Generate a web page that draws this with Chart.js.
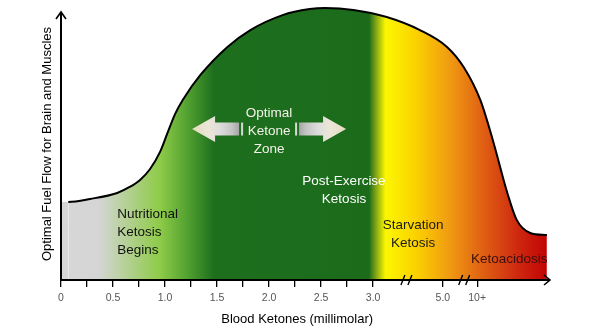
<!DOCTYPE html>
<html>
<head>
<meta charset="utf-8">
<script src="https://cdn.jsdelivr.net/npm/chart.js@4.4.1/dist/chart.umd.min.js"></script>
<style>
  html, body { margin: 0; padding: 0; background: #fff; }
  canvas { display: block; }
</style>
</head>
<body>
<canvas id="chart" width="599" height="330"></canvas>
<script>
// Position along the ketone axis (0–3.0 mmol linear, then broken to 5.0 and 10+)
const ketonePos = [0, 0.07, 0.28, 0.54, 0.66, 0.76, 0.856, 0.952, 1.02, 1.096, 1.17, 1.34, 1.60, 1.82, 2.13, 2.39, 2.54, 2.81, 3.13, 3.45, 3.71, 3.87, 4.03, 4.15, 4.29, 4.38, 4.51, 4.67];
// Relative fuel flow for brain and muscles
const fuelFlow  = [28.7, 28.7, 29.8, 32.0, 34.2, 36.8, 40.8, 47.1, 53.7, 61.0, 66.2, 75.4, 85.7, 91.9, 97.4, 99.6, 100, 99.3, 96.7, 91.9, 85.7, 78.3, 66.2, 51.5, 32.0, 22.1, 17.3, 16.5];

// Axis ticks and their labels
const tickPos    = [0, 0.25, 0.5, 0.75, 1.0, 1.25, 1.5, 1.75, 2.0, 2.25, 2.5, 2.75, 3.0, 3.67, 4.0];
const tickLabels = ['0', '', '0.5', '', '1.0', '', '1.5', '', '2.0', '', '2.5', '', '3.0', '5.0', '10+'];
const axisBreaks = [3.32, 3.875];

// Zone names written inside the area
const zoneText = [
  { lines: ['Nutritional', 'Ketosis', 'Begins'], at: 0.54, v: 24.3, align: 'left',   color: '#111111' },
  { lines: ['Optimal', 'Ketone', 'Zone'],        at: 2.0,  v: 61.2, align: 'center', color: '#f4f2ea' },
  { lines: ['Post-Exercise', 'Ketosis'],         at: 2.72, v: 36.4, align: 'center', color: '#ffffff' },
  { lines: ['Starvation', 'Ketosis'],            at: 3.385, v: 20.2, align: 'center', color: '#1a1a1a' },
  { lines: ['Ketoacidosis'],                     at: 3.94, v: 7.7,  align: 'left',   color: '#3a1010' }
];

// Colour bands of the area, from normal through ketosis to ketoacidosis
const bandStops = [
  [0, '#d7d7d7'], [0.36, '#d5d5d5'], [0.95, '#8ecb48'], [1.2, '#56a432'], [1.47, '#1d6f1e'],
  [2.96, '#1b6b1b'], [3.03, '#86a814'], [3.12, '#fbf700'], [3.42, '#fbd000'], [3.74, '#f09a12'],
  [4.06, '#e05f13'], [4.38, '#cf2a10'], [4.67, '#c10404']
];

const FONT = '"Liberation Sans", Arial, sans-serif';
Chart.defaults.font.family = FONT;

function bandGradient(context) {
  const chart = context.chart;
  const a = chart.chartArea;
  if (!a) return null;
  const x = chart.scales.x;
  const g = chart.ctx.createLinearGradient(a.left, 0, a.right, 0);
  bandStops.forEach(([p, c]) => {
    const t = (x.getPixelForValue(p) - a.left) / (a.right - a.left);
    g.addColorStop(Math.min(1, Math.max(0, t)), c);
  });
  return g;
}

function drawDoubleArrow(ctx, cx, cy) {
  // one arrow on each side of the "Optimal Ketone Zone" text
  [-1, 1].forEach(dir => {
    const tip = cx + dir * 77, base = cx + dir * 54, shaftEnd = cx + dir * 30;
    const g = ctx.createLinearGradient(tip, 0, shaftEnd, 0);
    g.addColorStop(0, '#e6dcc0');
    g.addColorStop(0.35, '#ebe6d6');
    g.addColorStop(0.6, '#dcdcdc');
    g.addColorStop(0.85, '#c4c4c4');
    g.addColorStop(1, '#a6a6a6');
    ctx.fillStyle = g;
    ctx.beginPath();
    ctx.moveTo(tip, cy);
    ctx.lineTo(base, cy - 13);
    ctx.lineTo(base, cy - 6.5);
    ctx.lineTo(shaftEnd, cy - 6.5);
    ctx.lineTo(shaftEnd, cy + 6.5);
    ctx.lineTo(base, cy + 6.5);
    ctx.lineTo(base, cy + 13);
    ctx.closePath();
    ctx.fill();
    // thin bar next to the shaft
    ctx.fillStyle = '#d8d8d8';
    const b0 = cx + dir * 28, b1 = cx + dir * 26;
    ctx.fillRect(Math.min(b0, b1), cy - 6.5, 2, 13);
  });
}

const decor = {
  id: 'decor',
  afterDraw(chart) {
    const { ctx, chartArea: a, scales: { x, y } } = chart;
    ctx.save();

    // arrows and zone names
    drawDoubleArrow(ctx, x.getPixelForValue(2.0), y.getPixelForValue(55.5));
    ctx.font = '13.5px ' + FONT;
    ctx.textBaseline = 'middle';
    zoneText.forEach(z => {
      ctx.fillStyle = z.color;
      ctx.textAlign = z.align;
      const px = x.getPixelForValue(z.at);
      const py = y.getPixelForValue(z.v);
      z.lines.forEach((t, i) => ctx.fillText(t, px, py + i * 18));
    });

    // axes with arrowheads
    ctx.strokeStyle = '#000';
    ctx.lineWidth = 2;
    ctx.beginPath();
    ctx.moveTo(a.left, a.bottom + 1);
    ctx.lineTo(a.left, a.top + 4);
    ctx.moveTo(a.left - 1, a.bottom);
    ctx.lineTo(a.right, a.bottom);
    ctx.stroke();
    ctx.lineWidth = 1.6;
    ctx.beginPath();
    ctx.moveTo(a.left - 5, a.top + 11);
    ctx.lineTo(a.left, a.top + 4);
    ctx.lineTo(a.left + 5, a.top + 11);
    ctx.moveTo(a.right - 6, a.bottom - 5);
    ctx.lineTo(a.right, a.bottom);
    ctx.lineTo(a.right - 6, a.bottom + 5);
    ctx.stroke();

    // axis breaks
    ctx.lineWidth = 1.4;
    axisBreaks.forEach(p => {
      const px = x.getPixelForValue(p);
      ctx.beginPath();
      ctx.moveTo(px - 5.5, a.bottom + 5);
      ctx.lineTo(px - 1.5, a.bottom - 5);
      ctx.moveTo(px + 1.5, a.bottom + 5);
      ctx.lineTo(px + 5.5, a.bottom - 5);
      ctx.stroke();
    });

    // x axis title
    ctx.fillStyle = '#000';
    ctx.font = '13px ' + FONT;
    ctx.textAlign = 'center';
    ctx.fillText('Blood Ketones (millimolar)', x.getPixelForValue(2.27), a.bottom + 39);
    ctx.restore();
  }
};

new Chart(document.getElementById('chart'), {
  type: 'line',
  data: {
    datasets: [{
      data: ketonePos.map((k, i) => ({ x: k, y: fuelFlow[i] })),
      fill: 'origin',
      backgroundColor: bandGradient,
      borderColor: '#000',
      borderWidth: 2,
      pointRadius: 0,
      cubicInterpolationMode: 'monotone',
      clip: false,
      segment: {
        borderColor: c => (c.p0DataIndex === 0 ? 'rgba(0,0,0,0)' : '#000')
      }
    }]
  },
  options: {
    responsive: false,
    animation: false,
    devicePixelRatio: 1,
    layout: { padding: { left: 0, right: 49, top: 8, bottom: 0 } },
    plugins: { legend: { display: false }, tooltip: { enabled: false } },
    scales: {
      x: {
        type: 'linear', min: 0, max: 4.7,
        afterBuildTicks(s) { s.ticks = tickPos.map(v => ({ value: v })); },
        afterFit(s) { s.height = 50; },
        ticks: {
          autoSkip: false, maxRotation: 0, color: '#555', padding: 5,
          font: { size: 10.5 },
          callback: (v, i) => tickLabels[i]
        },
        grid: { drawOnChartArea: false, drawTicks: true, tickLength: 7, color: '#000', lineWidth: 1.3 },
        border: { display: false }
      },
      y: {
        min: 0, max: 100,
        afterFit(s) { s.width = 61; },
        ticks: { display: false },
        grid: { display: false },
        border: { display: false },
        title: {
          display: true,
          text: 'Optimal Fuel Flow for Brain and Muscles',
          color: '#000',
          font: { size: 13 },
          padding: { top: 40, bottom: 0 }
        }
      }
    }
  },
  plugins: [decor]
});
</script>
</body>
</html>
